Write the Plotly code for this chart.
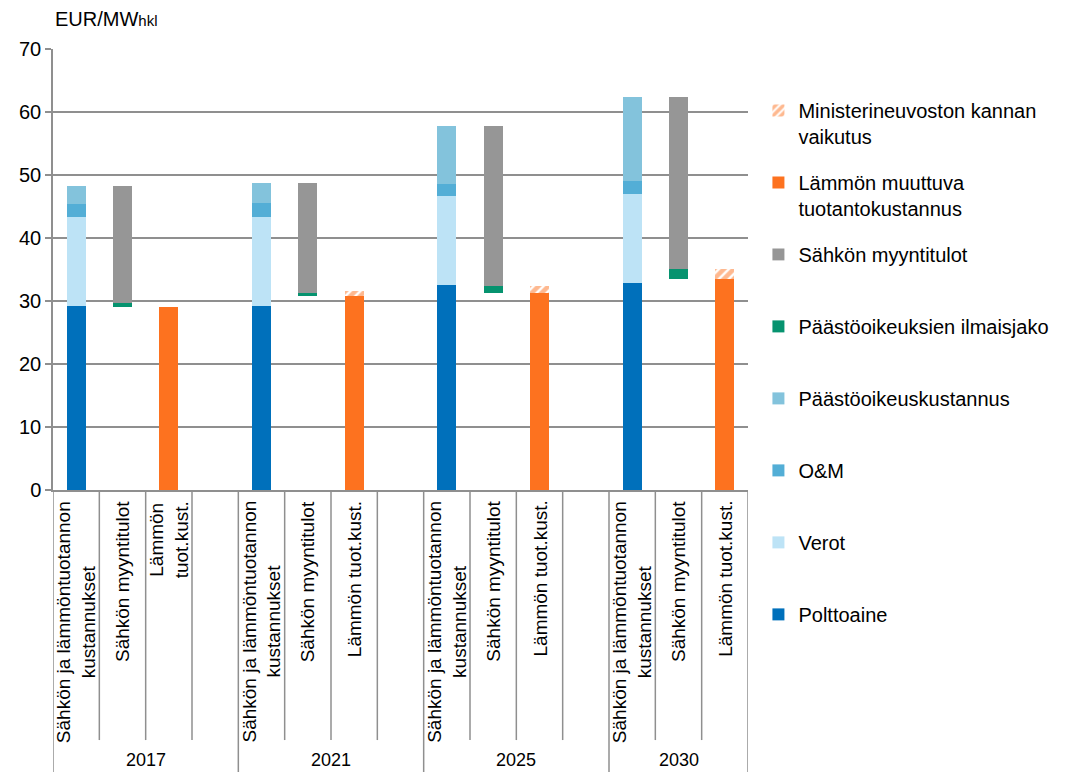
import plotly.graph_objects as go

# Category structure: four years, three bars per year (last year has no spacer slot)
years = ["2017", "2021", "2025", "2030"]
bar_labels = [
    "Sähkön ja lämmöntuotannon<br>kustannukset",
    "Sähkön myyntitulot",
    "Lämmön tuot.kust.",
]
bar_labels_2017 = [
    "Sähkön ja lämmöntuotannon<br>kustannukset",
    "Sähkön myyntitulot",
    "Lämmön<br>tuot.kust.",
]

# Costs of combined electricity and heat production, EUR/MWh
polttoaine = [29.2, 29.2, 32.5, 32.9]
verot = [14.2, 14.2, 14.1, 14.1]
om = [2.0, 2.1, 2.0, 2.1]
paastooikeuskustannus = [2.8, 3.3, 9.1, 13.3]

# Electricity revenue bar (floating on top of heat production cost)
myynti_pohja = [29.0, 30.8, 31.3, 33.5]
ilmaisjako = [0.7, 0.4, 1.1, 1.6]
myyntitulot = [18.5, 17.6, 25.3, 27.3]

# Variable heat production cost
lammon_kustannus = [29.0, 30.8, 31.3, 33.5]
ministerineuvosto = [0.0, 0.8, 1.1, 1.6]

SLOTS_PER_YEAR = 4
n_slots = SLOTS_PER_YEAR * (len(years) - 1) + 3
x_cost = [SLOTS_PER_YEAR * i + 0 for i in range(len(years))]
x_sale = [SLOTS_PER_YEAR * i + 1 for i in range(len(years))]
x_heat = [SLOTS_PER_YEAR * i + 2 for i in range(len(years))]

FONT = "Liberation Sans, Arial, sans-serif"
GRID = "#8f8f8f"
BW = 0.41

C_POLTTO = "#0070bb"
C_VEROT = "#bde3f6"
C_OM = "#53aed6"
C_PAASTO = "#83c3dc"
C_ILMAIS = "#06936f"
C_MYYNTI = "#969696"
C_LAMPO = "#fd721f"

fig = go.Figure()

def add_bar(name, x, y, color, rank, **kw):
    fig.add_trace(go.Bar(
        name=name, x=x, y=y, width=BW, legendgroup=name, legendrank=rank,
        marker=dict(color=color, line=dict(width=0)), **kw))

# Stacking follows trace order; legend lists the topmost segment first
add_bar("Polttoaine", x_cost, polttoaine, C_POLTTO, 8)
add_bar("Verot", x_cost, verot, C_VEROT, 7)
add_bar("O&M", x_cost, om, C_OM, 6)
add_bar("Päästöoikeuskustannus", x_cost, paastooikeuskustannus, C_PAASTO, 5)
fig.add_trace(go.Bar(
    x=x_sale, y=myynti_pohja, width=BW, showlegend=False, hoverinfo="skip",
    marker=dict(color="rgba(0,0,0,0)", line=dict(width=0))))
add_bar("Päästöoikeuksien ilmaisjako", x_sale, ilmaisjako, C_ILMAIS, 4)
add_bar("Sähkön myyntitulot", x_sale, myyntitulot, C_MYYNTI, 3)
add_bar("Lämmön muuttuva<br>tuotantokustannus", x_heat, lammon_kustannus, C_LAMPO, 2)
fig.add_trace(go.Bar(
    name="Ministerineuvoston kannan<br>vaikutus", x=x_heat, y=ministerineuvosto,
    width=BW, legendgroup="mn", legendrank=1,
    marker=dict(color="white", line=dict(width=0),
                pattern=dict(shape="/", fgcolor=C_LAMPO, bgcolor="white",
                             size=7, solidity=0.65))))

# Single-line legend entries get a blank second line so all entries are equally tall
for tr in fig.data:
    if tr.name and "<br>" not in tr.name:
        tr.name = tr.name + "<br>\u00a0"

annotations = []
shapes = []

# Category labels under each bar, rotated
for gi, yr in enumerate(years):
    labels = bar_labels_2017 if gi == 0 else bar_labels
    for bi, lab in enumerate(labels):
        annotations.append(dict(
            x=SLOTS_PER_YEAR * gi + bi, xref="x", y=0, yref="paper",
            yshift=-9, text=lab, textangle=-90, showarrow=False,
            xanchor="center", yanchor="top", align="center",
            font=dict(family=FONT, size=19, color="#000000")))

# Year labels
group_start = [SLOTS_PER_YEAR * i - 0.5 for i in range(len(years))]
group_end = group_start[1:] + [n_slots - 0.5]
for yr, a, b in zip(years, group_start, group_end):
    annotations.append(dict(
        x=(a + b) / 2, xref="x", y=-0.612, yref="paper", text=yr,
        showarrow=False, xanchor="center", yanchor="middle",
        font=dict(family=FONT, size=18, color="#000000")))

# Divider lines in the category area
for a in group_start + [n_slots - 0.5]:
    shapes.append(dict(type="line", xref="x", yref="paper", x0=a, x1=a,
                       y0=0, y1=-0.64, line=dict(color=GRID, width=1.5)))
for gi in range(len(years)):
    n_in = SLOTS_PER_YEAR if gi < len(years) - 1 else 3
    for k in range(1, n_in):
        xv = group_start[gi] + k
        shapes.append(dict(type="line", xref="x", yref="paper", x0=xv, x1=xv,
                           y0=0, y1=-0.567, line=dict(color=GRID, width=1.5)))

# Unit label
annotations.append(dict(
    x=0, xref="paper", y=1.0, yref="paper", yshift=30,
    text="EUR/MW<span style='font-size:15px'>hkl</span>", showarrow=False,
    xanchor="left", yanchor="middle",
    font=dict(family=FONT, size=20, color="#000000")))

fig.update_layout(
    width=1069, height=772,
    barmode="stack",
    plot_bgcolor="white", paper_bgcolor="white",
    margin=dict(l=53, r=321, t=49, b=282, autoexpand=False),
    font=dict(family=FONT, size=18, color="#000000"),
    annotations=annotations,
    shapes=shapes,
    legend=dict(
        x=1.015, y=0.905, xanchor="left", yanchor="top",
        traceorder="grouped", valign="top", tracegroupgap=17,
        maxheight=760,
        font=dict(family=FONT, size=20, color="#000000"),
        bgcolor="rgba(0,0,0,0)",
    ),
)

fig.update_xaxes(
    range=[-0.5, n_slots - 0.5], showticklabels=False, showgrid=False,
    zeroline=False, showline=True, linecolor=GRID, linewidth=1.5, ticks="",
)
fig.update_yaxes(
    range=[0, 70], dtick=10, showgrid=True, gridcolor=GRID, gridwidth=1.5,
    zeroline=False, showline=True, linecolor=GRID, linewidth=1.5,
    ticks="outside", ticklen=6, tickcolor=GRID, tickwidth=1.5,
    tickfont=dict(family=FONT, size=20, color="#000000"),
)

fig.write_html("out.html")
